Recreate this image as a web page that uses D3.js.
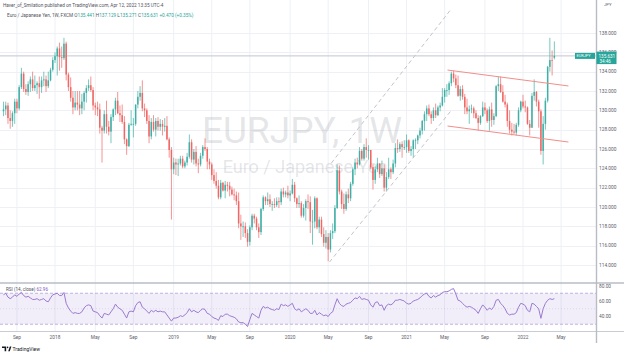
<!DOCTYPE html>
<html><head><meta charset="utf-8">
<script src="https://cdn.jsdelivr.net/npm/d3@7"></script>
<style>html,body{margin:0;padding:0;background:#fff;}svg{display:block;font-family:Roboto,"Noto Sans",sans-serif;}</style>
</head><body><svg id="c" width="624" height="356"></svg>
<script>
// ---------- DATA ----------
const firstWeek = "2017-07-24"; // first weekly candle (Monday)
// weekly candles [open, high, low, close]
const ohlc2017 = [
[129.9,130.9,129.4,130.1],[130.1,130.9,129.5,130.5],[130.5,130.8,128.6,129.2],[129.2,130.0,128.1,128.9],
[128.9,129.9,128.3,129.7],[129.7,131.2,128.6,130.9],[130.9,131.2,129.7,130.2],[130.2,132.6,130.0,132.4],
[132.4,134.4,132.2,133.8],[133.8,134.0,131.9,132.2],[132.2,132.7,131.6,131.9],[131.9,133.0,131.5,132.7],
[132.7,133.5,131.9,133.2],[133.2,134.0,132.0,132.3],[132.3,133.6,132.0,132.6],[132.6,133.0,131.7,132.8],
[132.8,133.5,131.2,132.4],[132.4,133.5,131.8,133.1],[133.1,134.0,132.5,133.2],[133.2,133.6,131.9,132.5],
[132.5,134.0,132.3,133.1],[133.1,134.4,133.0,134.2],[134.2,135.5,134.0,135.2]];
const ohlc2018 = [
[135.2,136.0,134.9,135.6],[135.6,136.6,133.6,136.4],[136.4,137.0,134.1,135.5],[135.5,136.6,134.4,135.4],
[135.4,137.5,135.2,136.9],[136.9,137.1,133.1,133.7],[133.7,133.9,132.0,132.4],[132.4,133.4,130.9,131.3],
[131.3,132.0,129.6,130.3],[130.3,132.0,130.0,130.8],[130.8,132.0,130.0,130.6],[130.6,132.0,129.5,130.2],
[130.2,131.7,129.6,130.9],[130.9,132.0,130.0,131.8],[131.8,132.6,130.8,132.3],[132.3,133.2,132.0,132.6],
[132.6,133.5,131.9,132.1],[132.1,132.4,130.0,130.5],[130.5,130.8,129.5,130.3],[130.3,130.9,129.4,130.1],
[130.1,130.7,127.6,128.2],[128.2,128.4,124.6,127.9],[127.9,130.0,127.6,129.6],[129.6,131.0,127.6,128.3],
[128.3,128.9,127.4,127.8],[127.8,129.6,126.6,129.3],[129.3,130.2,128.9,130.1],[130.1,131.3,129.5,131.0],
[131.0,131.9,129.6,129.7],[129.7,130.5,128.8,129.5],[129.5,130.6,128.6,128.8],[128.8,129.4,126.5,127.0],
[127.0,127.1,125.4,126.3],[126.3,128.7,126.2,128.5],[128.5,130.0,128.4,128.6],[128.6,129.2,127.2,128.6],
[128.6,130.6,128.4,130.6],[130.6,132.0,130.2,131.4],[131.4,132.5,131.0,131.8],[131.8,133.1,129.9,130.2],
[130.2,130.7,129.3,130.0],[130.0,130.2,128.6,128.9],[128.9,129.5,126.6,127.3],[127.3,129.2,127.0,128.8],
[128.8,129.5,127.8,128.0],[128.0,129.2,127.3,128.9],[128.9,129.3,127.9,128.3],[128.3,129.1,127.9,128.6],
[128.6,129.0,127.4,128.3],[128.3,129.2,127.8,128.4],[128.4,129.4,126.9,127.0],[127.0,127.2,125.1,125.9]];
const ohlc2019 = [
[125.9,126.2,118.7,123.9],[123.9,125.1,123.4,124.6],[124.6,125.0,123.3,124.4],[124.4,125.0,123.2,124.5],
[124.5,125.3,124.3,125.0],[125.0,125.3,124.0,124.2],[124.2,124.8,124.0,124.6],[124.6,125.6,124.3,125.2],
[125.2,127.5,125.0,126.7],[126.7,127.0,124.6,124.9],[124.9,126.0,124.4,125.7],[125.7,126.3,124.2,124.5],
[124.5,125.0,123.5,124.4],[124.4,125.6,124.2,125.3],[125.3,126.4,125.0,126.2],[126.2,127.1,125.8,126.0],
[126.0,126.2,123.9,124.7],[124.7,125.0,123.9,124.4],[124.4,124.6,122.8,123.3],[123.3,123.9,122.4,122.7],
[122.7,123.6,121.9,122.2],[122.2,122.8,120.8,121.0],[121.0,122.8,120.8,122.5],[122.5,122.6,121.6,121.7],
[121.7,122.7,120.9,122.3],[122.3,122.6,121.6,122.2],[122.2,122.6,121.1,121.8],[121.8,122.1,121.2,121.3],
[121.3,121.9,120.7,121.2],[121.2,121.6,120.2,120.6],[120.6,121.5,117.8,118.3],[118.3,119.2,116.6,118.0],
[118.0,118.5,116.9,118.0],[118.0,118.4,116.8,117.3],[117.3,117.7,115.9,116.4],[116.4,118.1,116.0,117.9],
[117.9,119.3,117.6,119.1],[119.1,119.3,118.3,118.8],[118.8,119.0,117.6,117.9],[117.9,118.3,116.8,117.4],
[117.4,119.9,117.1,119.8],[119.8,121.2,119.6,121.0],[121.0,121.1,120.2,120.6],[120.6,121.5,120.2,120.8],
[120.8,121.3,120.0,120.3],[120.3,120.6,119.6,120.3],[120.3,120.9,119.9,120.2],[120.2,121.0,120.0,120.6],
[120.6,121.0,119.9,120.5],[120.5,121.9,120.2,121.6],[121.6,122.0,121.0,121.3],[121.3,121.7,121.0,121.5]];
const ohlc2020 = [
[121.5,122.2,120.9,121.2],[121.2,121.7,120.6,121.4],[121.4,122.9,121.3,122.3],[122.3,122.6,120.5,120.9],
[120.9,121.0,119.9,120.3],[120.3,121.2,119.9,120.4],[120.4,120.6,118.9,119.1],[119.1,120.3,118.9,119.9],
[119.9,120.8,118.6,120.6],[120.6,121.3,119.8,120.5],[120.5,121.1,117.3,118.5],[118.5,119.7,116.1,118.5],
[118.5,121.1,117.8,120.9],[120.9,121.0,117.7,117.9],[117.9,119.0,117.3,118.7],[118.7,119.0,116.9,117.2],
[117.2,117.9,115.9,116.3],[116.3,117.6,115.7,116.9],[116.9,117.3,114.4,115.6],[115.6,117.6,115.3,117.3],
[117.3,118.3,116.7,117.5],[117.5,120.2,117.3,119.9],[119.9,124.4,119.8,123.8],[123.8,124.3,121.3,121.6],
[121.6,121.8,119.8,120.3],[120.3,121.4,119.3,119.8],[119.8,121.6,119.6,121.3],[121.3,121.9,120.4,120.9],
[120.9,122.6,120.6,122.4],[122.4,124.1,122.2,123.9],[123.9,125.0,123.3,124.6],[124.6,125.1,124.0,124.4],
[124.4,126.2,124.3,125.8],[125.8,126.0,124.8,125.0],[125.0,126.5,124.8,126.2],[126.2,127.1,125.1,125.9],
[125.9,126.4,124.9,125.9],[125.9,125.9,123.9,124.1],[124.1,124.4,121.8,122.8],[122.8,124.2,122.4,123.9],
[123.9,125.1,123.6,124.5],[124.5,124.5,123.0,123.4],[123.4,124.8,123.2,124.0],[124.0,124.4,121.6,122.0],
[122.0,123.6,121.6,123.1],[123.1,125.1,122.9,123.9],[123.9,124.1,122.9,123.6],[123.6,124.9,123.4,124.5],
[124.5,126.6,124.1,126.1],[126.1,127.0,125.6,126.0],[126.0,126.7,125.7,126.5],[126.5,126.8,125.1,126.2]];
const ohlc2021 = [
[126.2,126.9,125.9,126.2],[126.2,127.5,125.6,126.9],[126.9,127.0,125.6,125.8],[125.8,126.3,125.3,126.0],
[126.0,127.0,125.1,126.9],[126.9,127.1,126.0,126.9],[126.9,127.5,126.5,127.4],[127.4,128.2,127.1,127.9],
[127.9,129.0,127.5,128.9],[128.9,129.9,127.9,129.6],[129.6,130.5,128.9,130.2],[130.2,130.6,129.4,129.6],
[129.6,129.9,128.6,129.2],[129.2,130.3,128.9,130.0],[130.0,130.7,129.2,129.5],[129.5,130.5,129.4,130.3],
[130.3,130.8,129.9,130.5],[130.5,132.3,130.4,131.4],[131.4,132.3,130.8,132.1],[132.1,132.7,131.4,132.1],
[132.1,133.0,131.6,132.8],[132.8,134.0,132.5,133.8],[133.8,134.1,132.9,133.3],[133.3,133.7,132.3,132.6],
[132.6,133.6,131.4,131.5],[131.5,132.5,131.0,132.2],[132.2,132.6,131.1,131.4],[131.4,131.7,129.6,130.3],
[130.3,131.2,129.6,129.9],[129.9,130.5,128.6,130.1],[130.1,130.6,129.7,130.2],[130.2,130.4,129.2,129.7],
[129.7,130.0,129.1,129.2],[129.2,129.5,127.9,128.7],[128.7,129.5,128.5,129.4],[129.4,130.9,129.3,130.3],
[130.3,130.8,129.6,130.0],[130.0,130.2,128.7,128.9],[128.9,130.4,127.9,130.1],[130.1,130.8,128.3,129.0],
[129.0,129.7,128.5,129.4],[129.4,132.6,129.3,132.5],[132.5,133.5,132.0,132.7],[132.7,133.5,131.8,131.9],
[131.9,132.6,130.8,130.9],[130.9,131.6,130.3,130.6],[130.6,130.8,128.3,128.9],[128.9,130.0,127.6,128.0],
[128.0,128.7,127.4,127.8],[127.8,128.6,127.5,127.7],[127.7,128.7,127.4,128.5],[128.5,130.3,128.3,130.0],
[130.0,131.0,129.8,130.9]];
const ohlc2022 = [
[130.9,131.6,130.2,130.4],[130.4,131.0,129.8,130.3],[130.3,130.4,128.5,128.6],[128.6,129.0,127.4,128.2],
[128.2,131.8,128.2,131.5],[131.5,133.2,131.0,131.9],[131.9,132.0,130.4,130.9],[130.9,131.1,128.2,129.9],
[129.9,130.1,125.4,125.8],[125.8,129.4,124.4,128.6],[128.6,131.3,128.0,131.0],[131.0,134.6,130.8,134.5],
[134.5,137.5,134.0,135.2],[135.2,136.2,133.6,135.161],[135.441,137.129,135.271,135.631]];
// RSI(14, close), one value per weekly candle
const rsi2017 = [68,70,65,63,65,68,66,69,71,67,65,66,64,62,62,63,61,62,63,60,59,64,68];
const rsi2018 = [69,70,67,67,71,57,51,47,44,45,44,44,46,51,54,55,54,47,46,45,41,38,44,43,42,46,50,56,52,50,48,43,38,46,47,46,54,58,59,52,50,47,44,48,46,48,46,47,46,46,42,38];
const rsi2019 = [34,38,38,39,41,40,42,45,50,46,48,46,45,48,50,49,44,43,40,38,37,35,41,40,43,43,41,40,39,37,33,32,32,30,27,36,44,42,40,38,48,53,51,52,50,49,48,50,49,56,54,55];
const rsi2020 = [53,55,57,50,48,50,46,48,50,48,44,44,48,42,45,43,41,42,40,44,46,55,63,57,54,53,56,57,58,61,64,63,66,62,63,62,61,55,52,58,59,54,55,48,54,56,55,57,61,61,62,61];
const rsi2021 = [60,57,56,57,60,61,62,64,67,69,70,66,64,67,65,67,68,71,72,72,73,75,76,69,61,60,57,54,52,53,52,50,48,44,50,55,52,48,51,49,53,61,62,57,54,50,44,42,43,43,45,52,57];
const rsi2022 = [56,54,48,46,57,56,53,50,37.6,50,57,61,63,62,62.96];
const priceTicks = [114,116,118,120,122,124,126,128,130,132,134,136,138];
const rsiTicks = [40,60,80];
const rsiLevels = [70,50,30];
const lastPrice = 135.631;
const lastRsi = 62.96;
// drawings (date, price)
const channelLines = [["2021-05-12",134.17,"2022-05-25",132.52],["2021-05-12",128.38,"2022-05-25",126.72]];
const dashedLines = [["2020-05-14",124.55,"2021-05-24",140.5],["2020-05-08",114.3,"2021-05-24",130.0]];
const headerTitle = "Haver_of_Smilation published on TradingView.com, Apr 12, 2022 13:35 UTC-4";
const headerSymbol = "Euro / Japanese Yen, 1W, FXCM";
const headerValues = [["O","135.441"],["H","137.129"],["L","135.271"],["C","135.631"],["","+0.470 (+0.35%)"]];

// ---------- BUILD ----------
const parse = d3.utcParse("%Y-%m-%d");
const start = parse(firstWeek);
const ohlc = [].concat(ohlc2017, ohlc2018, ohlc2019, ohlc2020, ohlc2021, ohlc2022);
const rsiVals = [].concat(rsi2017, rsi2018, rsi2019, rsi2020, rsi2021, rsi2022);
const candles = ohlc.map((v, i) => ({date: d3.utcMonday.offset(start, i), o: v[0], h: v[1], l: v[2], c: v[3], rsi: rsiVals[i]}));

const W = 624, PR = 596;
const x = d3.scaleUtc().domain([parse("2018-01-01"), parse("2022-01-03")]).range([55, 523]);
const y = d3.scaleLinear().domain([114, 138]).range([265, 33]);
const yr = d3.scaleLinear().domain([40, 60]).range([316.5, 301]);
const UP = "#26a69a", DN = "#ef5350", TXT = "#5d606b";

const svg = d3.select("#c");
const defs = svg.append("defs");
defs.append("clipPath").attr("id", "cm").append("rect").attr("x", 0).attr("y", 0).attr("width", PR).attr("height", 282.5);
defs.append("clipPath").attr("id", "cr").append("rect").attr("x", 0).attr("y", 284).attr("width", PR).attr("height", 47);

// time ticks: first weekly bar of Jan / May / Sep
const months = d3.utcMonth.every(4).range(parse("2017-08-01"), parse("2022-06-01"));
const tks = months.map(m => ({m, d: d3.utcMonday.ceil(m)}));

// grid
const grid = svg.append("g");
grid.selectAll(".vg").data(tks).join("line")
  .attr("x1", d => x(d.d)).attr("x2", d => x(d.d)).attr("y1", 0).attr("y2", 331)
  .attr("stroke", "#eef0f5").attr("stroke-width", 1);
grid.selectAll(".hg").data(priceTicks).join("line")
  .attr("x1", 0).attr("x2", PR).attr("y1", d => Math.round(y(d)) + 0.5).attr("y2", d => Math.round(y(d)) + 0.5)
  .attr("stroke", "#eef0f5").attr("stroke-width", 1);

// watermark
const wm = svg.append("g").attr("fill", "#787b86").attr("fill-opacity", 0.2).attr("text-anchor", "middle");
wm.append("text").attr("x", 302).attr("y", 143).attr("font-size", 37).text("EURJPY, 1W");
wm.append("text").attr("x", 305).attr("y", 173).attr("font-size", 18).text("Euro / Japanese Yen");

const main = svg.append("g").attr("clip-path", "url(#cm)");
// last price line
main.append("line").attr("x1", 0).attr("x2", PR).attr("y1", y(lastPrice)).attr("y2", y(lastPrice))
  .attr("stroke", "#c3c6ce").attr("stroke-width", 1);

// candles
const cg = main.append("g").attr("opacity", 0.88);
cg.selectAll("line").data(candles).join("line")
  .attr("x1", d => x(d.date)).attr("x2", d => x(d.date))
  .attr("y1", d => y(d.h)).attr("y2", d => y(d.l))
  .attr("stroke", d => d.c >= d.o ? UP : DN).attr("stroke-width", 0.7);
cg.selectAll("rect").data(candles).join("rect")
  .attr("x", d => x(d.date) - 0.75).attr("width", 1.5)
  .attr("y", d => y(Math.max(d.o, d.c)))
  .attr("height", d => Math.max(Math.abs(y(d.o) - y(d.c)), 0.8))
  .attr("fill", d => d.c >= d.o ? UP : DN);

// drawings
const seg = a => ({x1: x(parse(a[0])), y1: y(a[1]), x2: x(parse(a[2])), y2: y(a[3])});
main.selectAll(".ch").data(channelLines.map(seg)).join("line")
  .attr("x1", d => d.x1).attr("y1", d => d.y1).attr("x2", d => d.x2).attr("y2", d => d.y2)
  .attr("stroke", "#f28e8a").attr("stroke-width", 1);
main.selectAll(".ds").data(dashedLines.map(seg)).join("line")
  .attr("x1", d => d.x1).attr("y1", d => d.y1).attr("x2", d => d.x2).attr("y2", d => d.y2)
  .attr("stroke", "#c2c4ca").attr("stroke-width", 1).attr("stroke-dasharray", "4,3");

// RSI pane
const rp = svg.append("g").attr("clip-path", "url(#cr)");
rp.append("rect").attr("x", 0).attr("width", PR).attr("y", yr(70)).attr("height", yr(30) - yr(70))
  .attr("fill", "#7e57c2").attr("fill-opacity", 0.1);
rp.selectAll(".lv").data(rsiLevels).join("line")
  .attr("x1", 0).attr("x2", PR).attr("y1", d => yr(d)).attr("y2", d => yr(d))
  .attr("stroke", "#a891d2").attr("stroke-opacity", d => d === 50 ? 0.35 : 0.85)
  .attr("stroke-width", 0.8).attr("stroke-dasharray", d => d === 50 ? "1,2" : "3,2");
rp.append("path").datum(candles)
  .attr("d", d3.line().x(d => x(d.date)).y(d => yr(d.rsi)))
  .attr("fill", "none").attr("stroke", "#9a7bcf").attr("stroke-width", 1);

// pane borders
svg.append("line").attr("x1", 0).attr("x2", W).attr("y1", 283).attr("y2", 283).attr("stroke", "#b9bcc4").attr("stroke-width", 1.6);
svg.append("line").attr("x1", 0).attr("x2", W).attr("y1", 331.5).attr("y2", 331.5).attr("stroke", "#c9ccd3").attr("stroke-width", 1);
svg.append("line").attr("x1", PR + 0.5).attr("x2", PR + 0.5).attr("y1", 0).attr("y2", 343).attr("stroke", "#b9bcc4").attr("stroke-width", 1.4);

// right price axis
const ax = svg.append("g").attr("font-size", 4.8).attr("fill", TXT);
ax.selectAll(".pt").data(priceTicks).join("text")
  .attr("x", 599).attr("y", d => y(d)).attr("dy", "0.35em").text(d => d3.format(".3f")(d));
ax.selectAll(".rt").data(rsiTicks).join("text")
  .attr("x", 599).attr("y", d => Math.max(yr(d), 286.5)).attr("dy", "0.35em").text(d => d3.format(".2f")(d));
ax.append("text").attr("x", 604).attr("y", 5.5).attr("font-size", 4.3).text("JPY");

// last price labels
const ly = y(lastPrice);
svg.append("rect").attr("x", 596.5).attr("y", ly - 4.3).attr("width", 20).attr("height", 12.5).attr("fill", UP);
svg.append("text").attr("x", 598.5).attr("y", ly).attr("dy", "0.35em").attr("font-size", 4.6).attr("fill", "#fff").text(d3.format(".3f")(lastPrice));
svg.append("text").attr("x", 599.5).attr("y", ly + 5.5).attr("dy", "0.35em").attr("font-size", 4.6).attr("fill", "#fff").text("34:46");
svg.append("rect").attr("x", 575).attr("y", ly - 3).attr("width", 20).attr("height", 6).attr("fill", UP);
svg.append("text").attr("x", 576.5).attr("y", ly).attr("dy", "0.35em").attr("font-size", 3.9).attr("fill", "#fff").text("EURJPY");

// time axis labels
svg.append("g").attr("font-size", 4.8).attr("fill", TXT).attr("text-anchor", "middle")
  .selectAll("text").data(tks).join("text")
  .attr("x", d => x(d.d)).attr("y", 337).attr("dy", "0.35em")
  .text(d => d.m.getUTCMonth() === 0 ? d3.utcFormat("%Y")(d.m) : d3.utcFormat("%b")(d.m));

// header
svg.append("text").attr("x", 3).attr("y", 5.5).attr("dy", "0.35em").attr("font-size", 4.7).attr("fill", "#50535e").text(headerTitle);
const h2 = svg.append("text").attr("x", 7).attr("y", 15.5).attr("dy", "0.35em").attr("font-size", 4.7).attr("fill", "#50535e");
h2.append("tspan").text(headerSymbol + "  ");
headerValues.forEach(v => {
  h2.append("tspan").attr("fill", "#50535e").text(" " + v[0]);
  h2.append("tspan").attr("fill", UP).text(v[1]);
});

// RSI legend
const rl = svg.append("text").attr("x", 6).attr("y", 289.5).attr("dy", "0.35em").attr("font-size", 4.6).attr("fill", "#50535e");
rl.append("tspan").text("RSI (14, close)  ");
rl.append("tspan").attr("fill", "#7e57c2").text(d3.format(".2f")(lastRsi));

// TradingView logo
const lg = svg.append("g").attr("fill", "#131722");
lg.append("path").attr("d", "M2,346.6h4.2v4.6h-1.6v-3.1h-2.6z");
lg.append("circle").attr("cx", 7.6).attr("cy", 347.4).attr("r", 0.8);
lg.append("path").attr("d", "M8.2,351.2l1.6,-4.6h1.6l-1.6,4.6z");
svg.append("text").attr("x", 12.5).attr("y", 349).attr("dy", "0.35em").attr("font-size", 5).attr("fill", "#131722").text("TradingView");
</script></body></html>
